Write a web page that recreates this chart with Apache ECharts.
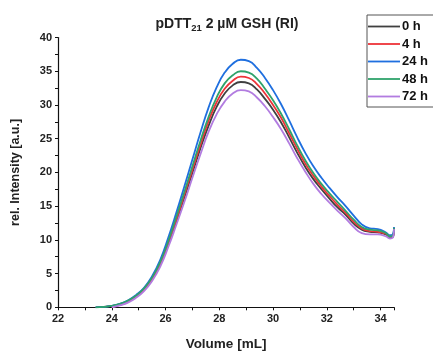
<!DOCTYPE html>
<html>
<head>
<meta charset="utf-8">
<script src="https://cdn.jsdelivr.net/npm/echarts@6/dist/echarts.min.js"></script>
<style>html,body{margin:0;padding:0;background:#fff}#c{width:433px;height:359px}</style>
</head>
<body>
<div id="c"></div>
<script>
var volume = [23.4, 23.7, 24.0, 24.3, 24.6, 24.9, 25.2, 25.5, 25.8, 26.1, 26.4, 26.7, 27.0, 27.3, 27.6, 27.9, 28.2, 28.5, 28.8, 29.1, 29.4, 29.7, 30.0, 30.3, 30.6, 30.9, 31.2, 31.5, 31.8, 32.1, 32.4, 32.7, 33.0, 33.3, 33.6, 33.9, 34.2, 34.35, 34.45, 34.5];
var h0  = [0, 0.05, 0.2, 0.45, 0.9, 1.6, 2.6, 4.2, 6.4, 9.4, 12.7, 16.3, 19.9, 23.6, 26.9, 29.7, 31.7, 32.9, 33.4, 33.2, 32.3, 30.9, 29.3, 27.4, 25.2, 22.9, 20.8, 19.0, 17.5, 16.1, 14.8, 13.7, 12.4, 11.5, 11.2, 11.1, 10.8, 10.4, 10.4, 11.7];
var h4  = [null, null, 0, 0.35, 0.8, 1.6, 2.6, 4.2, 6.5, 9.6, 13.0, 16.7, 20.4, 24.1, 27.6, 30.4, 32.4, 33.6, 34.2, 34.0, 33.1, 31.7, 30.0, 28.1, 25.8, 23.5, 21.3, 19.5, 17.9, 16.5, 15.2, 14.0, 12.7, 11.7, 11.3, 11.2, 10.9, 10.5, 10.5, 11.8];
var h24 = [0, 0.05, 0.2, 0.5, 1.0, 1.8, 2.9, 4.6, 7.0, 10.3, 14.0, 17.9, 21.9, 25.9, 29.6, 32.6, 34.8, 36.1, 36.7, 36.5, 35.5, 34.0, 32.2, 30.1, 27.7, 25.2, 22.9, 20.9, 19.2, 17.7, 16.3, 15.0, 13.6, 12.3, 11.7, 11.6, 11.1, 10.7, 10.8, 11.9];
var h48 = [0, 0.05, 0.2, 0.5, 1.0, 1.7, 2.8, 4.4, 6.7, 9.8, 13.4, 17.1, 20.9, 24.7, 28.2, 31.1, 33.2, 34.4, 35.0, 34.8, 33.9, 32.4, 30.7, 28.7, 26.4, 24.0, 21.8, 19.9, 18.3, 16.9, 15.6, 14.3, 13.0, 11.9, 11.5, 11.4, 11.0, 10.5, 10.6, 11.8];
var h72 = [null, null, 0, 0.3, 0.7, 1.4, 2.4, 3.9, 6.0, 8.9, 12.2, 15.6, 19.2, 22.7, 26.0, 28.6, 30.5, 31.7, 32.2, 32.0, 31.1, 29.8, 28.2, 26.4, 24.3, 22.1, 20.1, 18.3, 16.8, 15.5, 14.3, 13.2, 11.9, 11.0, 10.8, 10.8, 10.5, 10.2, 10.3, 11.6];
var seriesNames = ['0 h', '4 h', '24 h', '48 h', '72 h'];
var seriesColors = ['#404040', '#ee3338', '#1f6fdf', '#2fa36b', '#b27ce0'];
var xTicks = [22, 24, 26, 28, 30, 32, 34];
var yTicks = [0, 5, 10, 15, 20, 25, 30, 35, 40];

var allData = [h0, h4, h24, h48, h72];
function pairs(arr) {
  var out = [];
  for (var i = 0; i < volume.length; i++) if (arr[i] !== null) out.push([volume[i], arr[i]]);
  return out;
}
var font = 'Liberation Sans, Arial, sans-serif';
var chart = echarts.init(document.getElementById('c'), null, {renderer: 'canvas'});
chart.setOption({
  animation: false,
  backgroundColor: '#fff',
  title: {
    text: '{a|pDTT}{s|21}{a| 2 µM GSH (RI)}',
    left: 222, top: 11, textAlign: 'center',
    textStyle: {
      rich: {
        a: {fontFamily: font, fontWeight: 'bold', fontSize: 14, color: '#222'},
        s: {fontFamily: font, fontWeight: 'bold', fontSize: 9.5, color: '#222', verticalAlign: 'bottom', padding: [7, 0, 0, 0]}
      }
    }
  },
  legend: {
    orient: 'vertical', left: 367, top: 15,
    itemWidth: 32, itemHeight: 12, itemGap: 4.5,
    padding: [5, 12, 4, 1],
    icon: 'path://M0,0 M0,5.1 L32,5.1 L32,6.9 L0,6.9 Z M32,12',
    borderColor: '#555', borderWidth: 1,
    textStyle: {fontFamily: font, fontWeight: 'bold', fontSize: 13, color: '#111', padding: [0, 0, 0, -3]},
    data: seriesNames
  },
  grid: {left: 58, right: 39, top: 37.5, bottom: 51.7, containLabel: false},
  xAxis: {
    type: 'value', min: 22, max: 34.5, interval: 1,
    name: 'Volume [mL]', nameLocation: 'middle', nameGap: 30,
    nameTextStyle: {fontFamily: font, fontWeight: 'bold', fontSize: 13.5, color: '#222'},
    axisLine: {lineStyle: {color: '#111', width: 1.2}},
    axisTick: {show: true, inside: false, length: 3, lineStyle: {color: '#111'}},
    minorTick: {show: false},
    axisLabel: {fontFamily: font, fontWeight: 'bold', fontSize: 11, color: '#222', margin: 6, customValues: xTicks},
    splitLine: {show: false}
  },
  yAxis: {
    type: 'value', min: 0, max: 40, interval: 2.5,
    name: 'rel. Intensity [a.u.]', nameLocation: 'middle', nameGap: 36,
    nameTextStyle: {fontFamily: font, fontWeight: 'bold', fontSize: 12.5, color: '#222'},
    axisLine: {show: true, lineStyle: {color: '#111', width: 1.2}},
    axisTick: {show: true, inside: false, length: 3, lineStyle: {color: '#111'}},
    axisLabel: {fontFamily: font, fontWeight: 'bold', fontSize: 11, color: '#222', margin: 6, customValues: yTicks},
    splitLine: {show: false}
  },
  series: seriesNames.map(function (n, i) {
    return {
      name: n, type: 'line', smooth: 0.5, symbol: 'none', showSymbol: false,
      data: pairs(allData[i]),
      lineStyle: {color: seriesColors[i], width: 1.8},
      itemStyle: {color: seriesColors[i]},
      z: 2 + i
    };
  })
});
</script>
</body>
</html>
